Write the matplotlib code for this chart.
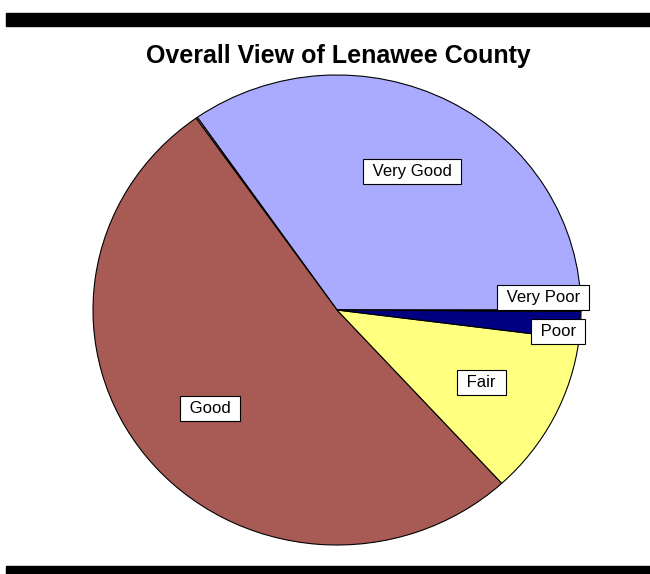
import numpy as np
import matplotlib.pyplot as plt
from matplotlib.patches import Rectangle

plt.rcParams['font.family'] = ['Liberation Sans', 'DejaVu Sans']

# survey shares (percent), counter-clockwise from 3 o'clock
categories = ['Very Good', '', 'Good', 'Fair', 'Poor', 'Very Poor']
shares = [34.7, 0.1, 52.0, 11.2, 1.9, 0.1]
colors = ['#AAAAFF', '#FFFFFF', '#A85A55', '#FFFF80', '#000080', '#FF8080']

W, H = 650, 574
fig = plt.figure(figsize=(W / 100, H / 100), dpi=100)
ax = fig.add_axes([0, 0, 1, 1])

# pie is drawn a little wider than tall
sy = 244 / 235
R = 244
cx, cy = 337, (H - 310) * sy

wedges, texts = ax.pie(shares, labels=categories, colors=colors, startangle=0,
                       counterclock=True, radius=R, center=(cx, cy),
                       labeldistance=0.667,
                       wedgeprops=dict(edgecolor='black', linewidth=0.8))
ax.set_xlim(0, W)
ax.set_ylim(0, H * sy)
ax.set_aspect('auto')
ax.axis('off')

# small slices get their labels pushed outward
moved = {'Poor': (0.91, -5.8), 'Very Poor': (0.846, 3.5)}
for w, t in zip(wedges, texts):
    name = t.get_text()
    if not name:
        continue
    if name in moved:
        r, ang = moved[name]
        t.set_position((cx + r * R * np.cos(np.radians(ang)),
                        cy + r * R * np.sin(np.radians(ang))))
    t.set_text(' ' + name + ' ')
    t.set_ha('center')
    t.set_va('center')
    t.set_fontsize(12)
    t.set_bbox(dict(boxstyle='square,pad=0.3', facecolor='white',
                    edgecolor='black', linewidth=0.8))

fig.text(338 / W, 1 - 56 / H, 'Overall View of Lenawee County',
         ha='center', va='center', fontsize=18, fontweight='bold')

# heavy rules above and below
fig.add_artist(Rectangle((6 / W, 1 - 26 / H), 1, 13 / H,
                         transform=fig.transFigure, color='black'))
fig.add_artist(Rectangle((6 / W, 0), 1, 8 / H,
                         transform=fig.transFigure, color='black'))

fig.savefig('out.png', dpi=100)
